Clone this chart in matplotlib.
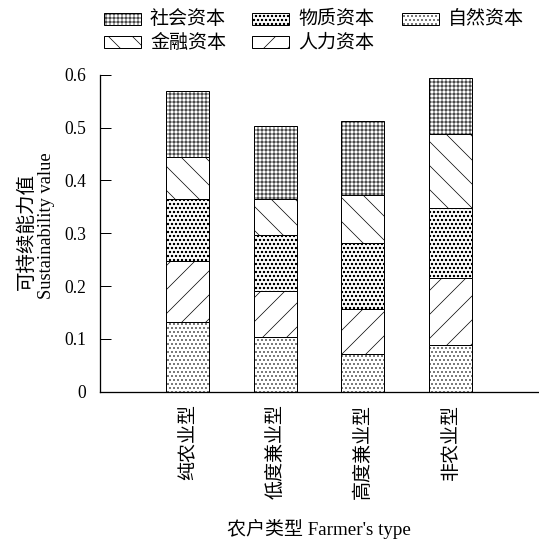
import matplotlib
matplotlib.use("Agg")
import matplotlib.pyplot as plt
from matplotlib.patches import Rectangle
import numpy as np

plt.rcParams['font.family'] = ['Liberation Serif', 'Noto Sans CJK SC']
plt.rcParams['hatch.linewidth'] = 0.7

categories = ['纯农业型', '低度兼业型', '高度兼业型', '非农业型']
natural = [0.131, 0.103, 0.071, 0.088]    # 自然资本
human = [0.116, 0.087, 0.086, 0.128]      # 人力资本
physical = [0.117, 0.107, 0.124, 0.132]   # 物质资本
financial = [0.080, 0.068, 0.091, 0.139]  # 金融资本
social = [0.125, 0.137, 0.140, 0.107]     # 社会资本
yticks = [0, 0.1, 0.2, 0.3, 0.4, 0.5, 0.6]
ytick_labels = ['0', '0.1', '0.2', '0.3', '0.4', '0.5', '0.6']

series = [
    ('自然资本', natural, '...'),
    ('人力资本', human, '/'),
    ('物质资本', physical, 'ooo'),
    ('金融资本', financial, '\\'),
    ('社会资本', social, '+++'),
]
hatch_of = {name: h for name, _, h in series}

DPI = 72
W, H = 539, 542
fig = plt.figure(figsize=(W / DPI, H / DPI), dpi=DPI)
ax = fig.add_axes([100 / W, 1 - 391.7 / H, 438 / W, (391.7 - 74.7) / H])

x = np.arange(1, len(categories) + 1)
bottom = np.zeros(len(categories))
for name, vals, hatch in series:
    ax.bar(x, vals, width=0.49, bottom=bottom, color='white',
           edgecolor='black', linewidth=1.0, hatch=hatch)
    bottom += np.array(vals)

ax.set_xlim(0, 5.0)
ax.set_ylim(0, 0.6)
ax.set_yticks(yticks)
ax.set_yticklabels(ytick_labels, fontsize=17.5)
ax.set_xticks(x)
ax.set_xticklabels(categories, rotation=90, fontsize=19,
                   family=['Noto Sans CJK SC'], va='top')
ax.tick_params(axis='y', direction='in', length=11, width=1.0, pad=14)
ax.tick_params(axis='x', length=0, pad=12)
ax.spines['top'].set_visible(False)
ax.spines['right'].set_visible(False)
ax.spines['left'].set_linewidth(1.3)
ax.spines['bottom'].set_linewidth(1.3)

fig.text(26 / W, 1 - 232 / H, '可持续能力值', rotation=90, fontsize=19.5,
         family=['Noto Sans CJK SC'], ha='center', va='center')
fig.text(47 / W, 1 - 226 / H, 'Sustainability value', rotation=90,
         fontsize=18.5, ha='center', va='center')
fig.text(319 / W, 1 - 529 / H, "农户类型 Farmer's type", fontsize=19,
         ha='center', va='center')

# manual legend
legend_items = [
    ('社会资本', 104, 19), ('物质资本', 252, 19), ('自然资本', 402, 19),
    ('金融资本', 104, 42), ('人力资本', 252, 42),
]
for name, lx, ly in legend_items:
    r = Rectangle((lx / W, 1 - (ly + 6) / H), 37 / W, 12 / H,
                  transform=fig.transFigure, facecolor='white',
                  edgecolor='black', linewidth=1.0, hatch=hatch_of[name])
    fig.patches.append(r)
    fig.text((lx + 46) / W, 1 - ly / H, name, fontsize=19,
             family=['Noto Sans CJK SC'], ha='left', va='center')

fig.savefig('out.png', dpi=DPI)
